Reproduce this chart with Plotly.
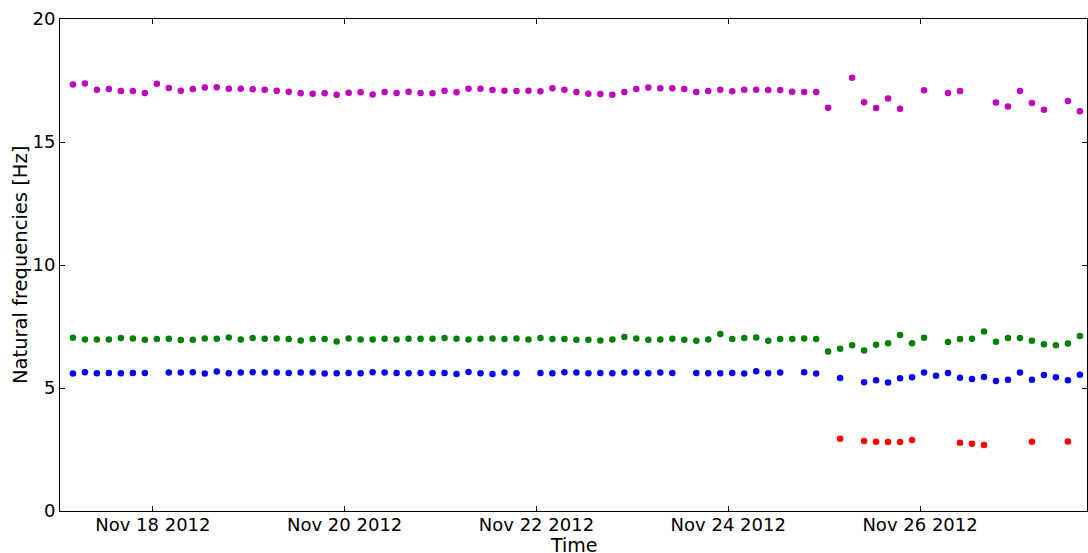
import pandas as pd
import plotly.graph_objects as go

# Sampling instants: every 3 hours
times = pd.date_range("2012-11-17 04:00", periods=85, freq="3h")

# Fourth mode (~17 Hz)
mode4 = [
    17.34, 17.38, 17.12, 17.15, 17.07, 17.07, 16.99, 17.37, 17.20, 17.08,
    17.15, 17.22, 17.23, 17.16, 17.16, 17.14, 17.12, 17.08, 17.04, 16.98,
    16.96, 16.98, 16.92, 17.00, 17.02, 16.93, 17.03, 16.99, 17.04, 16.99,
    16.98, 17.08, 17.02, 17.16, 17.16, 17.11, 17.08, 17.07, 17.08, 17.06,
    17.18, 17.12, 17.03, 16.96, 16.95, 16.92, 17.03, 17.15, 17.22, 17.18,
    17.18, 17.15, 17.03, 17.07, 17.12, 17.06, 17.12, 17.12, 17.11, 17.11,
    17.04, 17.03, 17.03, 16.39, None, 17.61, 16.62, 16.38, 16.77, 16.35,
    None, 17.10, None, 16.99, 17.07, None, None, 16.61, 16.44, 17.07,
    16.59, 16.31, None, 16.67, 16.25,
]

# Third mode (~7 Hz)
mode3 = [
    7.04, 6.97, 6.97, 6.97, 7.03, 7.01, 6.96, 6.99, 7.00, 6.95,
    6.96, 7.01, 7.00, 7.05, 6.97, 7.03, 7.00, 7.01, 6.99, 6.93,
    6.99, 6.99, 6.89, 7.01, 6.97, 6.97, 7.00, 6.97, 7.00, 7.00,
    7.00, 7.03, 7.00, 6.97, 7.00, 7.01, 6.99, 7.01, 6.97, 7.03,
    6.99, 6.99, 6.96, 6.96, 6.93, 6.97, 7.07, 7.01, 6.96, 6.97,
    7.00, 6.96, 6.92, 6.97, 7.20, 6.99, 7.03, 7.05, 6.92, 6.99,
    6.99, 7.01, 6.99, 6.48, 6.60, 6.74, 6.52, 6.76, 6.82, 7.15,
    6.82, 7.04, None, 6.87, 6.99, 7.00, 7.30, 6.88, 7.03, 7.03,
    6.92, 6.78, 6.74, 6.81, 7.11,
]

# Second mode (~5.6 Hz)
mode2 = [
    5.585, 5.64, 5.60, 5.61, 5.60, 5.61, 5.61, None, 5.63, 5.63,
    5.64, 5.585, 5.67, 5.60, 5.63, 5.64, 5.63, 5.63, 5.61, 5.63,
    5.63, 5.585, 5.60, 5.61, 5.60, 5.64, 5.63, 5.61, 5.60, 5.61,
    5.61, 5.61, 5.57, 5.65, 5.60, 5.57, 5.63, 5.60, None, 5.61,
    5.60, 5.64, 5.63, 5.60, 5.61, 5.60, 5.63, 5.63, 5.60, 5.63,
    5.61, None, 5.61, 5.60, 5.60, 5.61, 5.585, 5.68, 5.60, 5.63,
    None, 5.64, 5.585, None, 5.41, None, 5.23, 5.32, 5.22, 5.40,
    5.44, 5.63, 5.50, 5.61, 5.42, 5.37, 5.45, 5.28, 5.34, 5.63,
    5.34, 5.53, 5.44, 5.32, 5.54,
]

# First mode (~2.8 Hz), only identified late in the record
mode1 = [None] * 64 + [
    2.94, None, 2.85, 2.81, 2.80, 2.80, 2.89, None, None, None,
    2.77, 2.73, 2.68, None, None, None, 2.81, None, None, 2.83, None,
]

series = [
    (mode2, "#0000ff"),
    (mode3, "#008000"),
    (mode4, "#bf00bf"),
    (mode1, "#ff0000"),
]

tick_dates = ["2012-11-18", "2012-11-20", "2012-11-22", "2012-11-24", "2012-11-26"]
tick_text = ["Nov 18 2012", "Nov 20 2012", "Nov 22 2012", "Nov 24 2012", "Nov 26 2012"]

fig = go.Figure()
for values, color in series:
    fig.add_trace(go.Scatter(
        x=times, y=values, mode="markers",
        marker=dict(color=color, size=6.5, line=dict(width=0)),
        showlegend=False,
    ))

axis_common = dict(
    showgrid=False, zeroline=False,
    showline=True, linecolor="black", linewidth=1, mirror="ticks",
    ticks="inside", ticklen=5, tickcolor="black", tickwidth=1,
    tickfont=dict(family="DejaVu Sans", size=18, color="black"),
)

fig.update_layout(
    width=1088, height=553,
    margin=dict(l=60, r=1, t=19, b=42),
    paper_bgcolor="white", plot_bgcolor="white",
    font=dict(family="DejaVu Sans", size=18, color="black"),
    xaxis=dict(
        range=["2012-11-17 00:46", "2012-11-27 17:47"],
        tickvals=tick_dates, ticktext=tick_text,
        ticklabelstandoff=-3,
        **axis_common,
    ),
    yaxis=dict(
        range=[0, 20], tickvals=[0, 5, 10, 15, 20],
        **axis_common,
    ),
    annotations=[
        # axis titles
        dict(text="Time", xref="paper", yref="paper", x=0.5, y=0,
             xanchor="center", yanchor="top", yshift=-21, showarrow=False,
             font=dict(family="DejaVu Sans", size=19, color="black")),
        dict(text="Natural frequencies [Hz]", xref="paper", yref="paper",
             x=0, y=0.5, xanchor="center", yanchor="middle", xshift=-40,
             textangle=-90, showarrow=False,
             font=dict(family="DejaVu Sans", size=19.5, color="black")),
    ],
)

fig.write_html("out.html")
